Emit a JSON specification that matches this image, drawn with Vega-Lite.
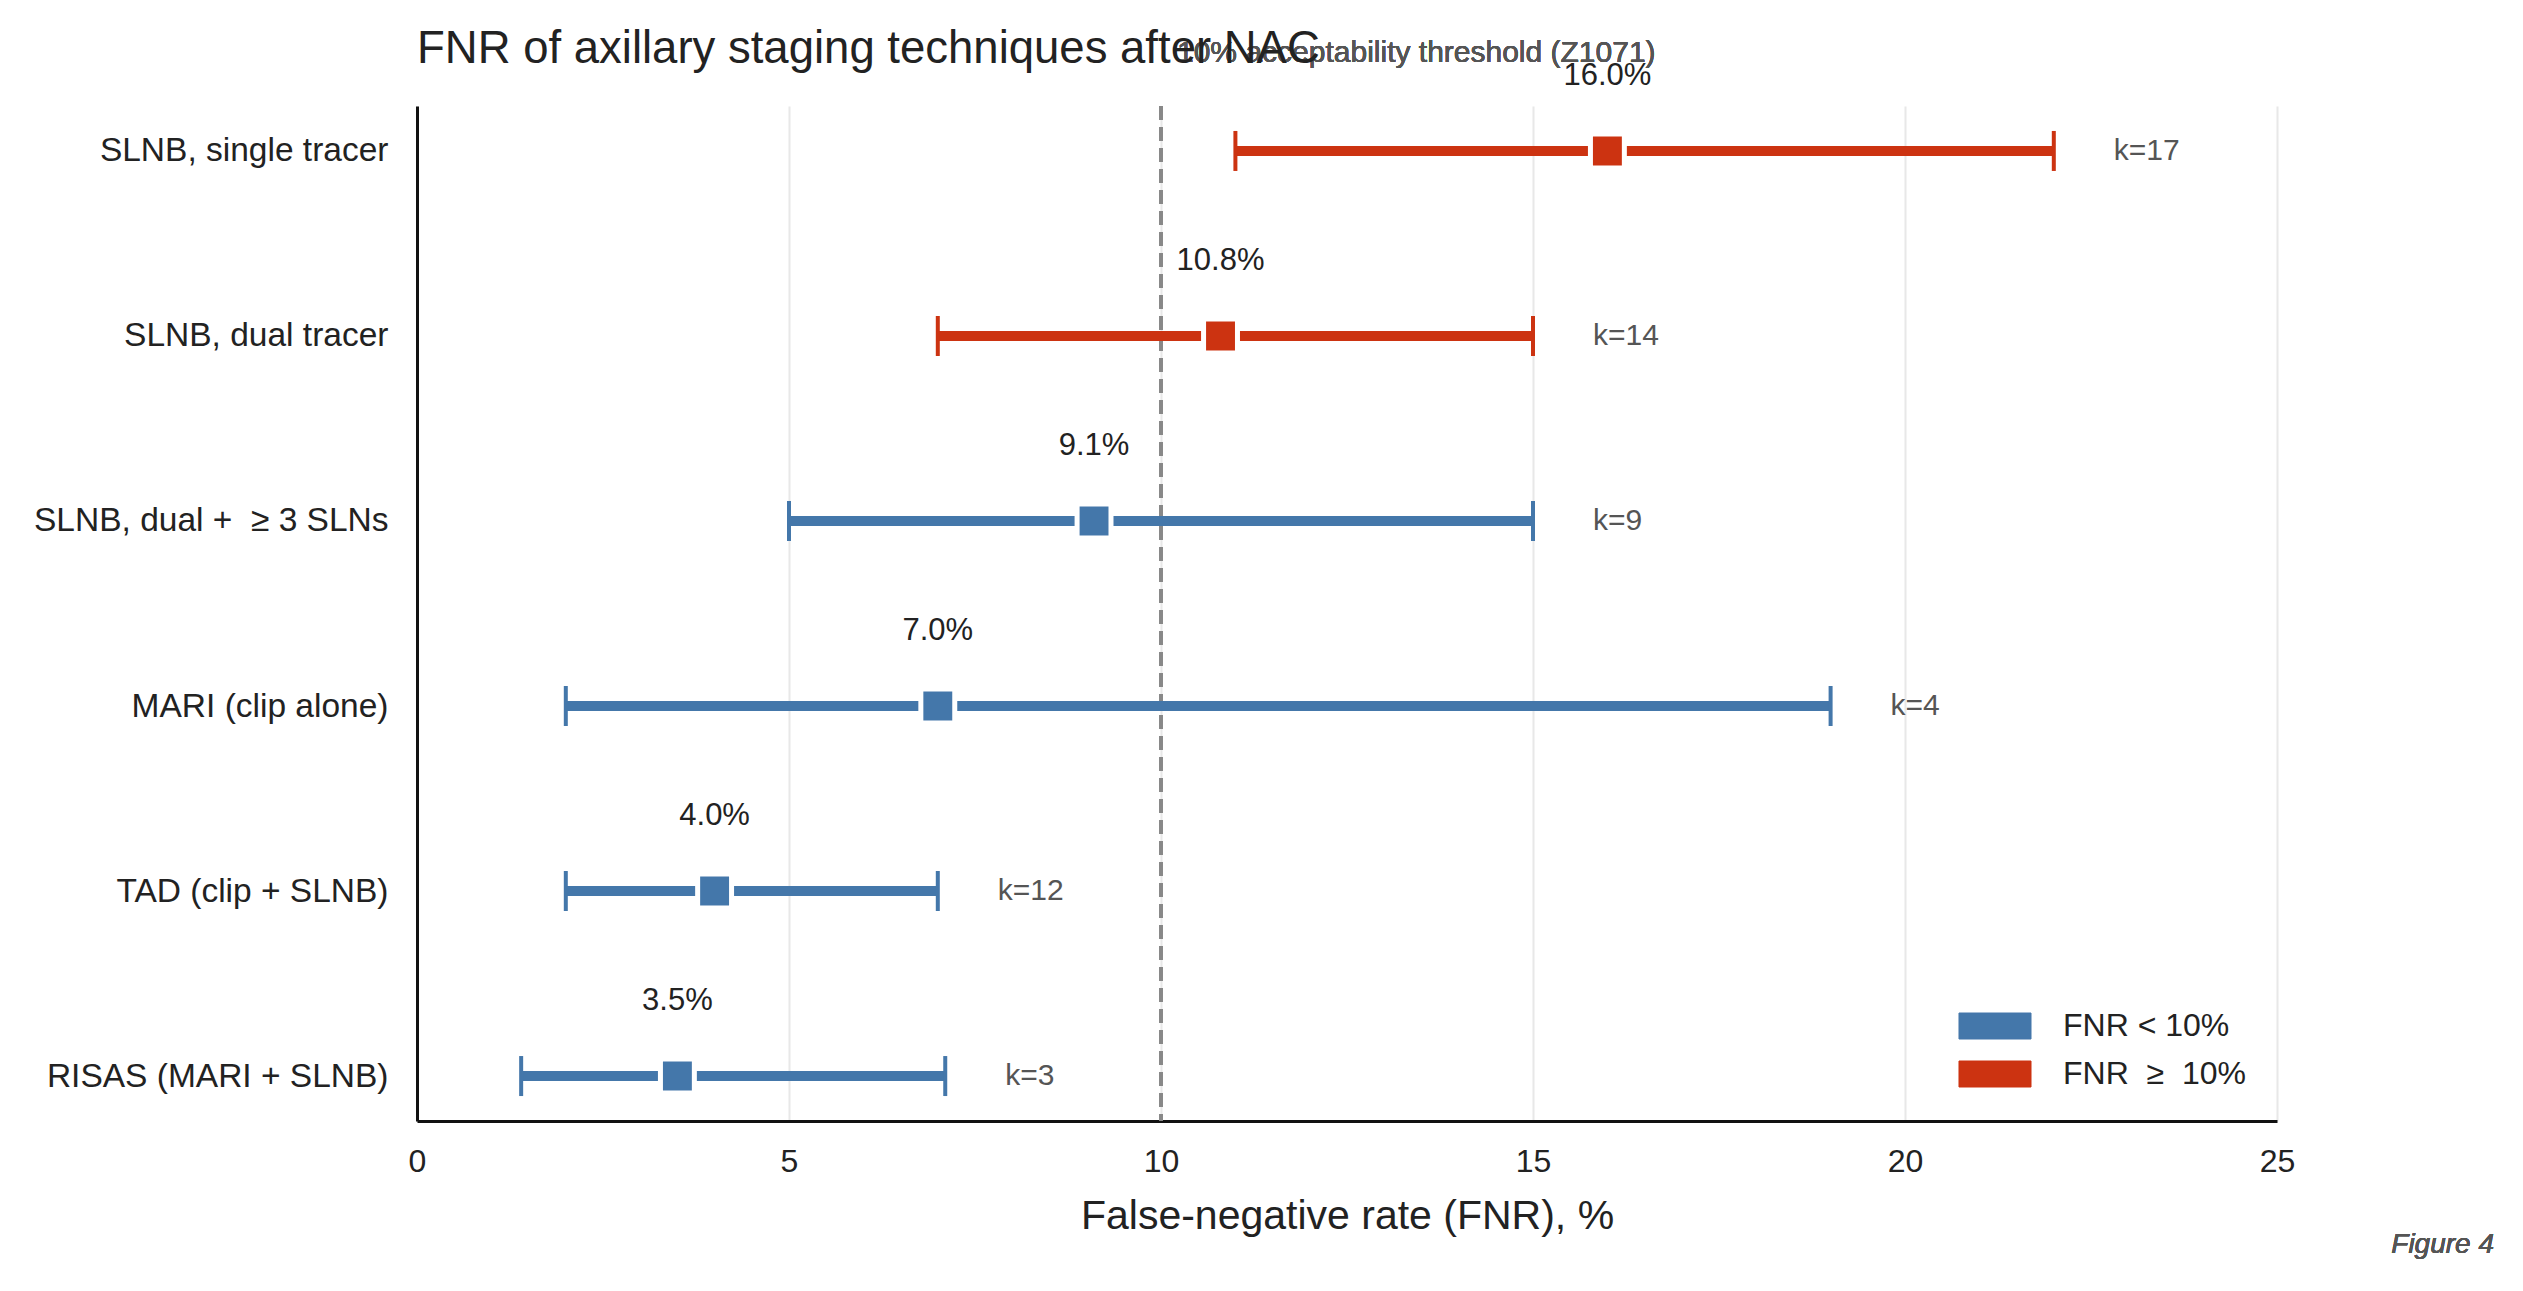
{
  "$schema": "https://vega.github.io/schema/vega-lite/v6.json",
  "width": 1860,
  "height": 1015,
  "autosize": {"type": "none"},
  "padding": {"left": 417, "top": 106, "right": 246, "bottom": 170},
  "background": "white",
  "config": {
    "font": "Liberation Sans",
    "view": {"stroke": null},
    "axis": {"labelFont": "Liberation Sans", "titleFont": "Liberation Sans"}
  },
  "title": {
    "text": "FNR of axillary staging techniques after NAC",
    "anchor": "start",
    "frame": "group",
    "fontSize": 45.5,
    "fontWeight": "normal",
    "color": "#222222",
    "baseline": "alphabetic",
    "offset": -71
  },
  "data": {
    "values": [
      {"technique": "SLNB, single tracer", "fnr": 16.0, "lo": 11.0, "hi": 22.0, "k": "k=17", "pct": "16.0%", "group": "FNR \u00a0\u2265\u00a0 10%"},
      {"technique": "SLNB, dual tracer", "fnr": 10.8, "lo": 7.0, "hi": 15.0, "k": "k=14", "pct": "10.8%", "group": "FNR \u00a0\u2265\u00a0 10%"},
      {"technique": "SLNB, dual + \u00a0\u2265 3 SLNs", "fnr": 9.1, "lo": 5.0, "hi": 15.0, "k": "k=9", "pct": "9.1%", "group": "FNR < 10%"},
      {"technique": "MARI (clip alone)", "fnr": 7.0, "lo": 2.0, "hi": 19.0, "k": "k=4", "pct": "7.0%", "group": "FNR < 10%"},
      {"technique": "TAD (clip + SLNB)", "fnr": 4.0, "lo": 2.0, "hi": 7.0, "k": "k=12", "pct": "4.0%", "group": "FNR < 10%"},
      {"technique": "RISAS (MARI + SLNB)", "fnr": 3.5, "lo": 1.4, "hi": 7.1, "k": "k=3", "pct": "3.5%", "group": "FNR < 10%"}
    ]
  },
  "encoding": {
    "y": {
      "field": "technique",
      "type": "nominal",
      "sort": null,
      "scale": {"type": "point", "padding": 0.243},
      "axis": {
        "title": null,
        "domain": true,
        "domainColor": "#111111",
        "domainWidth": 3,
        "ticks": false,
        "grid": false,
        "labelFontSize": 33.5,
        "labelColor": "#222222",
        "labelPadding": 29,
        "labelLimit": 600
      }
    }
  },
  "layer": [
    {
      "mark": {"type": "rule", "strokeWidth": 3, "strokeDash": [14, 7], "color": "#888888"},
      "encoding": {
        "x": {"datum": 10, "type": "quantitative"},
        "y": null
      }
    },
    {
      "mark": {"type": "rule", "strokeWidth": 10, "opacity": 1},
      "encoding": {
        "x": {
          "field": "lo",
          "type": "quantitative",
          "scale": {"domain": [0, 25], "nice": false, "zero": false},
          "axis": {
            "title": "False-negative rate (FNR), %",
            "titleFontSize": 41,
            "titleFontWeight": "normal",
            "titleColor": "#222222",
            "titlePadding": 19,
            "values": [0, 5, 10, 15, 20, 25],
            "format": "d",
            "labelFlush": false,
            "labelFontSize": 32,
            "labelColor": "#222222",
            "labelPadding": 25,
            "ticks": false,
            "domain": true,
            "domainColor": "#111111",
            "domainWidth": 3,
            "grid": true,
            "gridColor": "#e8e8e8",
            "gridWidth": 2
          }
        },
        "x2": {"field": "hi"},
        "color": {
          "field": "group",
          "type": "nominal",
          "scale": {"domain": ["FNR < 10%", "FNR \u00a0\u2265\u00a0 10%"], "range": ["#4477AA", "#CC3311"]}
        }
      }
    },
    {
      "mark": {"type": "tick", "size": 40, "thickness": 4, "opacity": 1},
      "encoding": {
        "x": {"field": "lo", "type": "quantitative"},
        "color": {"field": "group", "type": "nominal"}
      }
    },
    {
      "mark": {"type": "tick", "size": 40, "thickness": 4, "opacity": 1},
      "encoding": {
        "x": {"field": "hi", "type": "quantitative"},
        "color": {"field": "group", "type": "nominal"}
      }
    },
    {
      "mark": {"type": "square", "size": 1150, "stroke": "white", "strokeWidth": 5, "opacity": 1, "filled": true},
      "encoding": {
        "x": {"field": "fnr", "type": "quantitative"},
        "color": {
          "field": "group",
          "type": "nominal",
          "legend": {
            "title": null,
            "orient": "bottom-right",
            "offset": 31,
            "padding": 0,
            "symbolType": "M-2.77,-1H2.77V1H-2.77Z",
            "symbolSize": 676,
            "symbolStrokeWidth": 1,
            "symbolOpacity": 1,
            "labelFontSize": 32,
            "labelColor": "#222222",
            "labelOffset": 52,
            "labelLimit": 500,
            "rowPadding": 16
          }
        }
      }
    },
    {
      "mark": {"type": "text", "fontSize": 31, "color": "#222222", "align": "center", "baseline": "middle", "dy": -75},
      "encoding": {
        "x": {"field": "fnr", "type": "quantitative"},
        "text": {"field": "pct"}
      }
    },
    {
      "mark": {"type": "text", "fontSize": 30, "color": "#555555", "align": "left", "baseline": "middle", "dx": 60},
      "encoding": {
        "x": {"field": "hi", "type": "quantitative"},
        "text": {"field": "k"}
      }
    },
    {
      "mark": {"type": "text", "fontSize": 30, "color": "#555555", "align": "left", "baseline": "middle", "dx": 16, "dy": -98},
      "encoding": {
        "x": {"datum": 10, "type": "quantitative"},
        "y": {"datum": "SLNB, single tracer", "type": "nominal"},
        "text": {"value": "10% acceptability threshold (Z1071)"}
      }
    },
    {
      "mark": {"type": "text", "fontSize": 28, "fontStyle": "italic", "color": "#555555", "align": "right", "baseline": "middle", "dx": 217, "dy": 169},
      "encoding": {
        "x": {"datum": 25, "type": "quantitative"},
        "y": {"datum": "RISAS (MARI + SLNB)", "type": "nominal"},
        "text": {"value": "Figure 4"}
      }
    }
  ]
}
